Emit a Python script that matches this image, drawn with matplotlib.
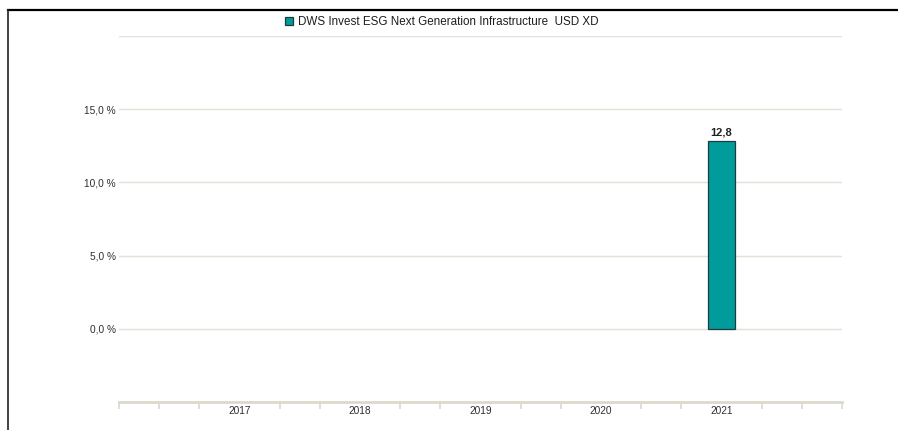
#!/usr/bin/env python3

import matplotlib

matplotlib.use("Agg")

import matplotlib.pyplot as plt
from matplotlib.lines import Line2D
from matplotlib.ticker import FixedLocator, FuncFormatter

plt.rcParams["font.family"] = ["Liberation Sans", "DejaVu Sans"]

SERIES_NAME = "DWS Invest ESG Next Generation Infrastructure  USD XD"
YEARS = [2017, 2018, 2019, 2020, 2021]
VALUES = [None, None, None, None, 12.8]
Y_TICKS = [0, 5, 10, 15, 20]

BAR_COLOR = "#009c9c"
EDGE_COLOR = "#1f3b3b"
GRID_COLOR = "#e3e0d8"
AXIS_COLOR = "#dcd8cc"
TEXT_COLOR = "#2e2e2e"

W, H = 898, 430


def pct_label(v, _pos):
    if v >= 20:
        return ""
    return f"{v:.1f} %".replace(".", ",")


def main() -> None:
    fig = plt.figure(figsize=(W / 100, H / 100), dpi=100)
    ax = fig.add_axes([119 / W, 1 - 402 / H, (842 - 119) / W, (402 - 36) / H])

    xs = [y for y, v in zip(YEARS, VALUES) if v is not None]
    vs = [v for v in VALUES if v is not None]
    bars = ax.bar(
        xs,
        vs,
        width=0.225,
        color=BAR_COLOR,
        edgecolor=EDGE_COLOR,
        linewidth=0.9,
        label=SERIES_NAME,
        zorder=3,
    )
    ax.bar_label(
        bars,
        labels=[f"{v:.1f}".replace(".", ",") for v in vs],
        padding=3,
        fontsize=8,
        fontweight="bold",
        color="#222222",
    )

    ax.set_xlim(YEARS[0] - 1, YEARS[-1] + 1)
    ax.set_ylim(-5, 20)

    ax.set_yticks(Y_TICKS)
    ax.yaxis.set_major_formatter(FuncFormatter(pct_label))
    ax.grid(axis="y", color=GRID_COLOR, linewidth=1.0, zorder=0)
    ax.tick_params(axis="y", length=0, pad=2.5, labelsize=7.3, labelcolor=TEXT_COLOR)

    ax.set_xticks(YEARS)
    ax.set_xticklabels([str(y) for y in YEARS])
    minor = []
    start = YEARS[0] - 1
    for i in range(3 * (len(YEARS) + 2) - 2):
        pos = start + i / 3
        if i % 3 == 0 and YEARS[0] <= round(pos) <= YEARS[-1]:
            continue
        minor.append(pos)
    ax.xaxis.set_minor_locator(FixedLocator(minor))
    ax.tick_params(axis="x", which="major", length=0, pad=3, labelsize=7.3, labelcolor=TEXT_COLOR)
    ax.tick_params(axis="x", which="minor", length=5, width=1.2, color=AXIS_COLOR, direction="out")

    for side in ("top", "right", "left"):
        ax.spines[side].set_visible(False)
    ax.spines["bottom"].set_color(AXIS_COLOR)
    ax.spines["bottom"].set_linewidth(2.0)

    leg = fig.legend(
        handles=[bars],
        loc="center left",
        bbox_to_anchor=(280 / W, 1 - 22 / H),
        frameon=False,
        fontsize=8.4,
        handlelength=0.75,
        handleheight=0.75,
        handletextpad=0.4,
        borderaxespad=0,
    )
    for t in leg.get_texts():
        t.set_color("#1e1e1e")

    # frame around the chart (only top and left visible in the crop)
    fig.add_artist(Line2D([8 / W, 1], [1 - 10 / H, 1 - 10 / H], color="black", linewidth=1.6))
    fig.add_artist(Line2D([8 / W, 8 / W], [0, 1 - 10 / H], color="#222222", linewidth=1.2))

    fig.savefig("out.png", dpi=100)
    plt.close(fig)


if __name__ == "__main__":
    main()
